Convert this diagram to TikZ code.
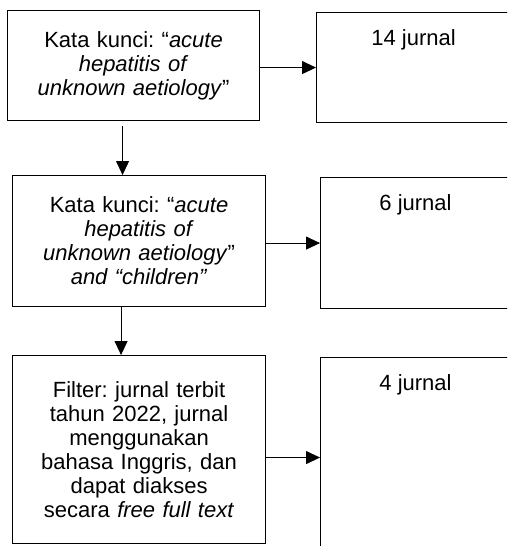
\documentclass[tikz,border=0pt]{standalone}
\usepackage{fontspec}
\setmainfont{Liberation Sans}
\usetikzlibrary{arrows.meta}
\tikzset{>={Triangle[length=14pt,width=13pt]}}
\tikzset{
  stepbox/.style={draw, line width=1.1pt, inner sep=0pt, anchor=north west,
    align=center, font=\fontsize{22}{24}\selectfont},
  countbox/.style={draw, line width=1.1pt, inner sep=0pt, anchor=north west},
  countlabel/.style={anchor=north, inner sep=0pt, yshift=-17pt,
    font=\fontsize{22}{24}\selectfont}
}
\frenchspacing

\begin{document}
\begin{tikzpicture}[x=1pt, y=-1pt]
\useasboundingbox (0,0) rectangle (507,546);
\clip (0,0) rectangle (507,546);
% left column
\node[stepbox, minimum width=252pt, minimum height=110pt, text width=240pt] (b1) at (7,10)
  {Kata kunci: ``\textit{acute}\\ \textit{hepatitis of}\\ \textit{unknown aetiology}''};
\node[stepbox, minimum width=253pt, minimum height=131pt, text width=240pt] (b2) at (12,175)
  {Kata kunci: ``\textit{acute}\\ \textit{hepatitis of}\\ \textit{unknown aetiology}''\\ \textit{and ``children''}};
\node[stepbox, minimum width=253pt, minimum height=188pt, text width=240pt] (b3) at (12,355)
  {Filter: jurnal terbit\\ tahun 2022, jurnal\\ menggunakan\\ bahasa Inggris, dan\\ dapat diakses\\ secara \textit{free full text}};
% right column
\node[countbox, minimum width=194pt, minimum height=110pt,
  label={[countlabel]north:14 jurnal}] (r1) at (316,12) {};
\node[countbox, minimum width=190pt, minimum height=131pt,
  label={[countlabel]north:6 jurnal}] (r2) at (320,177) {};
\node[countbox, minimum width=190pt, minimum height=200pt,
  label={[countlabel]north:4 jurnal}] (r3) at (320,357) {};
% arrows
\draw[->, line width=1.1pt] (b1.east |- r1.west) -- (r1.west);
\draw[->, line width=1.1pt] (b2.east |- r2.west) -- (r2.west);
\draw[->, line width=1.1pt] (b3.east |- r3.west) -- (r3.west);
\draw[->, line width=1.1pt] ([xshift=-11pt,yshift=-5pt]b1.south) -- ([xshift=-11pt]b1.south |- b2.north);
\draw[->, line width=1.1pt] ([xshift=-18pt]b2.south) -- ([xshift=-18pt]b2.south |- b3.north);
\end{tikzpicture}
\end{document}
